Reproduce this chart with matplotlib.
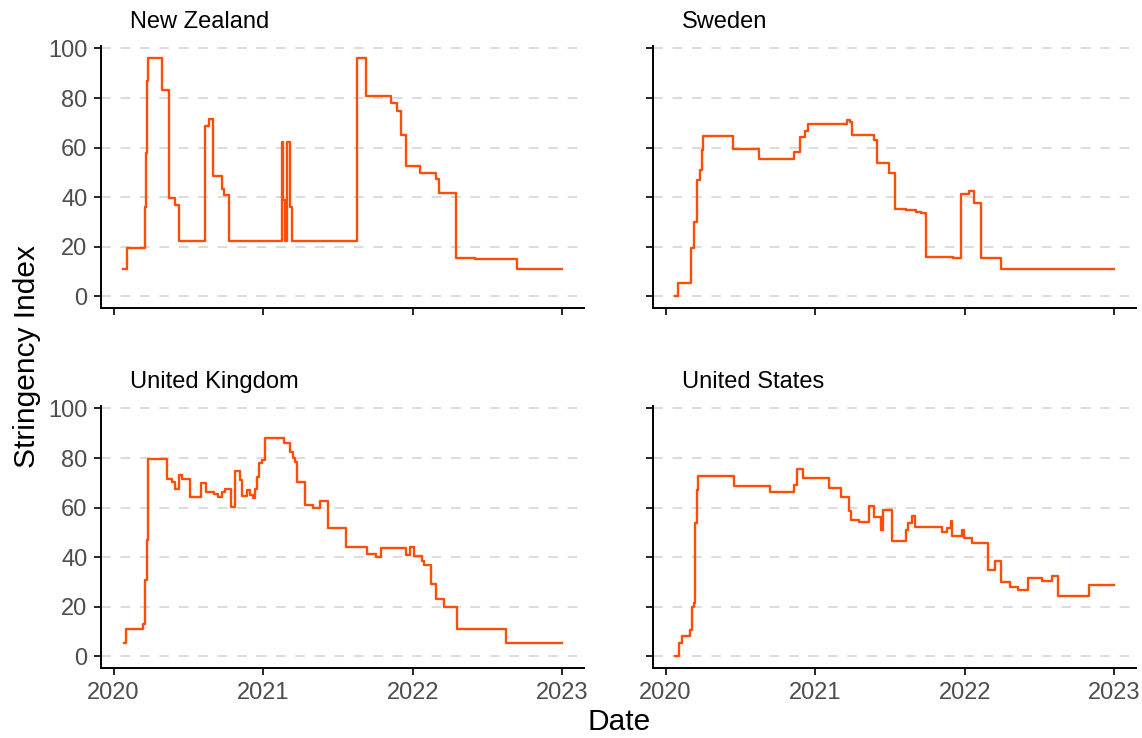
import matplotlib
matplotlib.use('Agg')
import matplotlib.pyplot as plt
import matplotlib.dates as mdates
import numpy as np
import pandas as pd

countries = ['New Zealand', 'Sweden', 'United Kingdom', 'United States']

nz_dates = ['2020-01-25', '2020-02-02', '2020-03-17', '2020-03-21', '2020-03-23', '2020-03-26',
            '2020-04-29', '2020-05-16', '2020-05-31', '2020-06-10', '2020-08-12', '2020-08-22',
            '2020-09-01', '2020-09-23', '2020-09-27', '2020-10-08', '2021-02-15', '2021-02-18',
            '2021-02-22', '2021-02-28', '2021-03-07', '2021-03-12', '2021-08-18', '2021-09-08',
            '2021-11-09', '2021-11-23', '2021-12-04', '2021-12-14', '2022-01-18', '2022-02-27',
            '2022-03-06', '2022-04-15', '2022-06-01', '2022-09-13', '2022-12-31']
nz_vals = [11.11, 19.44, 36.11, 57.87, 87.04, 96.3,
           83.3, 39.7, 36.8, 22.22, 68.6, 71.5,
           48.4, 43.4, 41.0, 22.22, 62.3, 38.9,
           22.22, 62.3, 36.1, 22.22, 96.3, 81.0,
           78.2, 74.6, 65.1, 52.5, 49.9, 47.5,
           41.8, 15.4, 15.0, 11.11, 11.11]

se_dates = ['2020-01-24', '2020-02-01', '2020-03-03', '2020-03-11', '2020-03-17', '2020-03-24',
            '2020-03-29', '2020-04-02', '2020-06-13', '2020-08-17', '2020-11-10', '2020-11-25',
            '2020-12-06', '2020-12-15', '2021-03-18', '2021-03-26', '2021-03-31', '2021-05-23',
            '2021-05-31', '2021-06-30', '2021-07-15', '2021-08-10', '2021-09-03', '2021-09-15',
            '2021-09-29', '2021-12-04', '2021-12-23', '2022-01-11', '2022-01-22', '2022-02-10',
            '2022-03-31', '2022-12-31']
se_vals = [0.0, 5.56, 19.4, 30.1, 46.8, 50.8,
           59.2, 64.8, 59.3, 55.6, 58.2, 64.4,
           66.8, 69.4, 71.3, 70.4, 65.2, 63.2,
           53.7, 49.9, 35.2, 34.7, 34.1, 33.7,
           15.8, 15.4, 41.2, 42.4, 37.7, 15.4,
           11.11, 11.11]

uk_dates = ['2020-01-26', '2020-02-01', '2020-03-14', '2020-03-18', '2020-03-22', '2020-03-24',
            '2020-05-11', '2020-05-22', '2020-05-30', '2020-06-10', '2020-06-16', '2020-07-06',
            '2020-08-02', '2020-08-13', '2020-09-02', '2020-09-13', '2020-09-21', '2020-09-29',
            '2020-10-13', '2020-10-24', '2020-11-05', '2020-11-09', '2020-11-21', '2020-11-29',
            '2020-12-06', '2020-12-11', '2020-12-16', '2020-12-22', '2020-12-28', '2021-01-06',
            '2021-02-21', '2021-03-07', '2021-03-13', '2021-03-19', '2021-03-25', '2021-04-12',
            '2021-05-02', '2021-05-19', '2021-06-08', '2021-07-21', '2021-09-11', '2021-10-02',
            '2021-10-14', '2021-12-16', '2021-12-26', '2022-01-03', '2022-01-22', '2022-01-28',
            '2022-02-14', '2022-02-27', '2022-03-18', '2022-04-19', '2022-08-17', '2022-12-31']
uk_vals = [5.56, 11.11, 13.0, 30.9, 47.0, 79.63,
           71.4, 70.4, 67.5, 73.1, 71.4, 64.4,
           70.0, 66.4, 65.5, 64.4, 66.4, 67.7,
           60.1, 74.8, 71.1, 64.7, 67.3, 65.1,
           63.8, 67.7, 72.4, 77.8, 79.4, 87.96,
           86.1, 82.4, 80.0, 78.4, 70.4, 61.0,
           60.0, 62.7, 51.7, 44.0, 41.3, 39.9,
           43.8, 40.9, 44.3, 40.3, 38.3, 36.9,
           29.1, 23.1, 20.1, 11.11, 5.56, 5.56]

us_dates = ['2020-01-24', '2020-02-02', '2020-02-10', '2020-03-01', '2020-03-05', '2020-03-11',
            '2020-03-14', '2020-03-17', '2020-03-21', '2020-06-16', '2020-09-13', '2020-11-10',
            '2020-11-17', '2020-12-01', '2021-02-04', '2021-03-04', '2021-03-23', '2021-03-30',
            '2021-04-18', '2021-05-11', '2021-05-23', '2021-06-10', '2021-06-14', '2021-07-08',
            '2021-08-11', '2021-08-16', '2021-08-24', '2021-09-01', '2021-11-07', '2021-11-17',
            '2021-11-27', '2021-11-30', '2021-12-26', '2021-12-30', '2022-01-19', '2022-02-27',
            '2022-03-16', '2022-03-30', '2022-04-21', '2022-05-11', '2022-06-05', '2022-07-09',
            '2022-08-02', '2022-08-16', '2022-11-01', '2022-12-31']
us_vals = [0.0, 5.56, 8.33, 10.7, 19.9, 21.5,
           53.7, 67.1, 72.7, 68.9, 66.2, 69.1,
           75.6, 71.8, 68.1, 64.4, 58.8, 55.0,
           54.1, 60.8, 56.1, 51.0, 59.1, 46.7,
           51.0, 53.7, 56.6, 52.3, 50.3, 51.6,
           54.8, 48.7, 51.0, 47.9, 45.6, 34.9,
           38.3, 29.8, 27.9, 26.6, 31.8, 30.5,
           32.6, 24.2, 28.6, 28.6]

series = {
    'New Zealand': (nz_dates, nz_vals),
    'Sweden': (se_dates, se_vals),
    'United Kingdom': (uk_dates, uk_vals),
    'United States': (us_dates, us_vals),
}
year_ticks = ['2020', '2021', '2022', '2023']
y_ticks = [0, 20, 40, 60, 80, 100]

line_color = '#FC4E07'
grey_text = '#4D4D4D'

plt.rcParams['font.family'] = ['Liberation Sans', 'DejaVu Sans']

fig = plt.figure(figsize=(11.42, 7.38), dpi=100)
W, H = 1142, 738
lefts = [101, 653]
tops = [45.7, 405.7]
pw, ph = 483, 262.6

# shared limits, ggplot style 5% expansion
all_dates = pd.to_datetime(sum([series[c][0] for c in countries], []))
all_vals = np.concatenate([series[c][1] for c in countries])
x0, x1 = mdates.date2num(all_dates.min()), mdates.date2num(all_dates.max())
xr = x1 - x0
y0, y1 = all_vals.min(), all_vals.max()
yr = y1 - y0

for k, country in enumerate(countries):
    row, col = divmod(k, 2)
    ax = fig.add_axes([lefts[col] / W, 1 - (tops[row] + ph) / H, pw / W, ph / H])
    d, v = series[country]
    ax.plot(pd.to_datetime(d), v, drawstyle='steps-post', color=line_color, lw=1.7, zorder=3)

    for yt in y_ticks:
        ax.axhline(yt, color='#DCDCDC', lw=1.4, ls=(0, (5, 5)), zorder=1)

    ax.set_xlim(x0 - 0.05 * xr, x1 + 0.05 * xr)
    ax.set_ylim(y0 - 0.05 * yr, y1 + 0.05 * yr)
    ax.set_xticks(pd.to_datetime([y + '-01-01' for y in year_ticks]))
    ax.set_yticks(y_ticks)
    ax.set_xticklabels(year_ticks if row == 1 else [])
    ax.set_yticklabels([str(t) for t in y_ticks] if col == 0 else [])

    for s in ['top', 'right']:
        ax.spines[s].set_visible(False)
    for s in ['left', 'bottom']:
        ax.spines[s].set_linewidth(1.4)
        ax.spines[s].set_color('black')
    ax.tick_params(length=5.3, width=1.2, color='black', labelsize=17,
                   labelcolor=grey_text, pad=4.5)

    ax.text(0.06, 1.09, country, transform=ax.transAxes, fontsize=17,
            ha='left', va='center', color='black')

fig.text(27 / W, 1 - 357 / H, 'Stringency Index', rotation=90, fontsize=21.5,
         ha='center', va='center')
fig.text(619 / W, 1 - 722 / H, 'Date', fontsize=21.5, ha='center', va='center')

fig.savefig('out.png', dpi=100)
